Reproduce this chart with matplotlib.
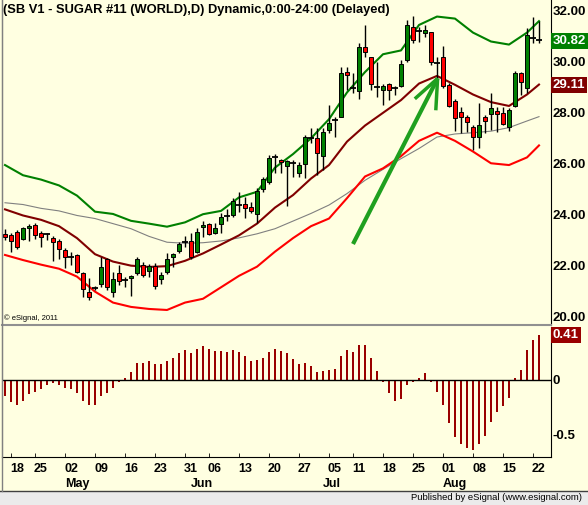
import matplotlib
matplotlib.use('Agg')
import matplotlib.pyplot as plt
import matplotlib.transforms as mtransforms
from matplotlib.patches import Rectangle
import pandas as pd

plt.rcParams['font.family'] = ['Liberation Sans', 'DejaVu Sans']

# ICE sugar trading days, Apr 14 - Aug 22 2011 (Good Friday, Memorial Day, Jul 4 closed)
dates = pd.bdate_range('2011-04-14', '2011-08-22')
dates = dates.drop(pd.to_datetime(['2011-04-22', '2011-05-30', '2011-07-04']))

opens = [23.24, 23.20, 23.31, 23.06, 23.47, 23.60, 23.27, 23.25, 23.08, 22.97,
         22.62, 22.35, 22.42, 21.73, 20.96, 21.12, 21.27, 22.26, 20.98, 21.70,
         21.42, 21.50, 21.70, 22.03, 21.80, 21.99, 21.47, 21.76, 22.33, 22.59,
         22.92, 22.97, 22.53, 23.51, 23.63, 23.27, 23.62, 23.95, 23.98, 24.40,
         24.41, 24.32, 24.02, 25.00, 25.30, 26.27, 26.15, 25.93, 26.05, 25.63,
         25.99, 27.00, 27.00, 26.31, 27.33, 27.70, 27.85, 29.59, 28.98, 28.87,
         30.57, 30.18, 29.00, 28.90, 29.13, 28.98, 29.06, 30.08, 31.38, 31.20,
         31.12, 31.16, 29.96, 30.21, 29.09, 28.48, 28.05, 27.83, 27.46, 27.04,
         27.85, 27.96, 28.07, 27.98, 27.46, 28.27, 29.55, 28.97, 30.95, 30.85]
highs = [23.45, 23.30, 23.40, 23.53, 23.64, 23.69, 23.36, 23.30, 23.17, 23.05,
         22.70, 22.55, 22.45, 21.76, 21.52, 21.20, 22.35, 22.29, 21.76, 22.03,
         21.54, 21.64, 22.35, 22.16, 22.07, 22.11, 21.76, 22.49, 22.51, 22.94,
         23.17, 23.27, 23.49, 23.76, 23.67, 23.67, 24.06, 24.21, 24.65, 24.91,
         24.71, 24.51, 25.04, 25.49, 26.35, 26.39, 26.18, 26.15, 26.15, 26.08,
         27.13, 27.39, 27.39, 27.39, 28.31, 27.85, 29.79, 29.81, 29.55, 30.73,
         31.45, 30.21, 30.01, 29.13, 29.16, 29.06, 30.08, 31.65, 31.80, 31.38,
         31.45, 31.19, 30.21, 30.63, 29.16, 28.53, 28.24, 27.92, 27.52, 28.38,
         27.92, 28.77, 28.24, 28.24, 28.18, 29.66, 29.62, 31.32, 31.78, 31.62]
lows = [23.01, 22.55, 22.64, 22.99, 22.98, 23.04, 22.75, 23.01, 22.20, 22.25,
        21.90, 22.03, 21.70, 20.78, 20.65, 21.05, 21.18, 21.05, 20.76, 21.24,
        21.18, 20.81, 21.63, 21.54, 21.57, 21.07, 21.28, 21.67, 21.96, 22.49,
        22.72, 22.25, 22.49, 23.14, 23.20, 23.23, 23.27, 23.76, 23.92, 24.12,
        23.88, 24.06, 23.67, 24.91, 25.20, 25.63, 25.65, 24.33, 25.49, 25.49,
        25.44, 26.81, 25.56, 25.76, 27.22, 27.07, 27.83, 28.90, 28.77, 28.53,
        30.21, 28.90, 28.61, 28.31, 28.51, 28.70, 29.00, 30.01, 30.73, 30.79,
        30.99, 29.88, 29.16, 28.97, 28.24, 27.30, 27.20, 27.26, 26.54, 26.61,
        27.22, 27.33, 27.26, 27.52, 27.29, 28.24, 28.70, 28.77, 30.73, 30.73]
closes = [23.12, 22.98, 22.72, 23.47, 23.57, 23.20, 23.11, 23.22, 22.92, 22.64,
          22.33, 22.37, 21.74, 21.10, 20.78, 21.15, 21.94, 21.18, 21.47, 21.41,
          21.40, 21.60, 22.25, 21.63, 22.00, 21.21, 21.63, 22.25, 22.45, 22.85,
          22.95, 22.35, 23.33, 23.59, 23.26, 23.47, 23.90, 23.98, 24.54, 24.42,
          24.25, 24.16, 24.93, 25.39, 26.22, 26.30, 26.05, 26.11, 26.07, 25.95,
          27.05, 27.02, 26.41, 27.26, 27.61, 27.72, 29.58, 29.49, 29.00, 30.57,
          30.38, 29.13, 29.02, 29.06, 28.90, 28.96, 29.91, 31.45, 30.86, 31.17,
          31.25, 30.01, 29.95, 29.06, 28.27, 27.79, 27.85, 27.65, 27.04, 27.52,
          27.69, 28.18, 27.96, 27.56, 28.11, 29.58, 29.22, 31.06, 30.93, 30.82]

# envelope lines read every third bar
band_idx = [0, 3, 6, 9, 12, 15, 18, 21, 24, 27, 30, 33, 36, 39, 42, 45,
            48, 51, 54, 57, 60, 63, 66, 69, 72, 75, 78, 81, 84, 87, 89]
upper = [25.95, 25.55, 25.38, 25.15, 24.75, 24.12, 24.03, 23.76, 23.65, 23.53,
         23.70, 24.02, 24.15, 24.68, 24.90, 25.85, 26.38, 27.00, 27.75, 28.80,
         29.60, 30.30, 30.45, 31.45, 31.78, 31.70, 31.15, 30.80, 30.68, 31.15, 31.60]
middle = [24.21, 23.97, 23.80, 23.55, 23.08, 22.45, 22.16, 22.00, 21.95, 21.98,
          22.19, 22.48, 22.83, 23.19, 23.65, 24.28, 24.77, 25.42, 25.95, 26.87,
          27.50, 28.00, 28.50, 29.15, 29.45, 29.10, 28.72, 28.42, 28.27, 28.72, 29.11]
lower = [22.42, 22.22, 22.04, 21.88, 21.57, 20.98, 20.55, 20.38, 20.30, 20.26,
         20.55, 20.70, 21.15, 21.60, 21.96, 22.55, 23.08, 23.55, 23.85, 24.65,
         25.50, 25.82, 26.30, 26.90, 27.22, 26.90, 26.48, 26.02, 25.95, 26.25, 26.72]
slow_ma = [24.47, 24.40, 24.25, 24.15, 23.97, 23.85, 23.65, 23.45, 23.15, 22.92,
           22.88, 22.90, 22.97, 23.09, 23.25, 23.45, 23.75, 24.05, 24.38, 24.83,
           25.35, 25.78, 26.20, 26.60, 27.05, 27.17, 27.22, 27.28, 27.42, 27.68, 27.85]

osc = [-0.15, -0.20, -0.23, -0.19, -0.13, -0.11, -0.08, -0.05, -0.03, -0.05,
       -0.07, -0.08, -0.12, -0.19, -0.23, -0.23, -0.15, -0.12, -0.07, -0.02,
       0.02, 0.07, 0.15, 0.15, 0.17, 0.14, 0.14, 0.17, 0.20, 0.24,
       0.27, 0.24, 0.28, 0.31, 0.28, 0.26, 0.26, 0.25, 0.27, 0.25,
       0.22, 0.17, 0.18, 0.20, 0.25, 0.28, 0.26, 0.24, 0.19, 0.14,
       0.15, 0.13, 0.07, 0.08, 0.09, 0.10, 0.22, 0.27, 0.25, 0.32,
       0.32, 0.20, 0.08, -0.02, -0.12, -0.19, -0.17, -0.05, -0.02, 0.02,
       0.06, -0.02, -0.11, -0.23, -0.39, -0.52, -0.58, -0.62, -0.64, -0.58,
       -0.51, -0.38, -0.29, -0.24, -0.16, 0.02, 0.09, 0.27, 0.36, 0.41]

price_ticks = [20, 22, 24, 26, 28, 30, 32]
title = '(SB V1 - SUGAR #11 (WORLD),D) Dynamic,0:00-24:00 (Delayed)'

# hand-drawn arrow on the chart (bar index, price)
arrow_tail = (58.0, 22.85)
arrow_tip = (72.1, 29.35)
arrow_barbs = [(68.3, 28.55), (71.8, 28.10)]

BG = '#FFFFE1'
GREEN = '#008000'
RED = '#FF0000'
DARKRED = '#800000'

W, H = 588.0, 505.0
fig = plt.figure(figsize=(W / 100, H / 100), dpi=100, facecolor=BG)
ax1 = fig.add_axes([2 / W, 1 - 325 / H, 549 / W, 325 / H])
ax2 = fig.add_axes([2 / W, 1 - 457 / H, 549 / W, 130 / H])

for ax in (ax1, ax2):
    ax.set_facecolor(BG)
    ax.set_xlim(-0.5, 91)
    ax.yaxis.tick_right()
    ax.spines['right'].set_color('black')
    ax.spines['left'].set_color('#808080')
    ax.tick_params(axis='y', length=0, pad=1, labelsize=9.5)

# ---- price panel
ax1.set_ylim(19.67, 32.43)
ax1.spines['top'].set_visible(False)
ax1.spines['bottom'].set_color('#909090')
ax1.spines['bottom'].set_linewidth(1.5)
ax1.set_xticks([])
ax1.set_yticks(price_ticks)
ax1.set_yticklabels(['%.2f' % t for t in price_ticks], fontweight='bold')

ax1.plot(band_idx, slow_ma, color='#808080', lw=0.8, zorder=2)
ax1.plot(band_idx, upper, color=GREEN, lw=1.5, zorder=2)
ax1.plot(band_idx, middle, color=DARKRED, lw=1.5, zorder=2)
ax1.plot(band_idx, lower, color=RED, lw=1.5, zorder=2)

for i, (o, h, l, c) in enumerate(zip(opens, highs, lows, closes)):
    ax1.vlines(i, l, h, color='black', lw=1, zorder=3)
    if abs(c - o) < 0.05:
        ax1.hlines(o, i - 0.45, i + 0.45, color='black', lw=1.3, zorder=4)
    else:
        col = GREEN if c > o else RED
        ax1.add_patch(Rectangle((i - 0.38, min(o, c)), 0.76, abs(c - o),
                                facecolor=col, edgecolor='black', lw=0.7, zorder=4))

ax1.plot([arrow_tail[0], arrow_tip[0]], [arrow_tail[1], arrow_tip[1]],
         color='#1FA01F', lw=3, solid_capstyle='butt', zorder=5)
for bx, by in arrow_barbs:
    ax1.plot([arrow_tip[0], bx], [arrow_tip[1], by], color='#1FA01F', lw=2.5,
             solid_capstyle='butt', zorder=5)

ax1.text(0.002, 1 - 10 / 325, title, transform=ax1.transAxes, fontsize=9.3,
         fontweight='bold', va='center', ha='left')
ax1.text(0.004, 0.022, '\u00a9 eSignal, 2011', transform=ax1.transAxes,
         fontsize=5.5, va='center', ha='left')

t1 = mtransforms.blended_transform_factory(ax1.transAxes, ax1.transData)
ax1.text(1.003, closes[-1], '%.2f' % closes[-1], transform=t1, color='white',
         fontsize=9.5, fontweight='bold', va='center', ha='left', clip_on=False,
         bbox=dict(boxstyle='square,pad=0.15', fc=GREEN, ec='none'))
ax1.text(1.003, middle[-1], '%.2f' % middle[-1], transform=t1, color='white',
         fontsize=9.5, fontweight='bold', va='center', ha='left', clip_on=False,
         bbox=dict(boxstyle='square,pad=0.15', fc=DARKRED, ec='none'))

# ---- oscillator panel
ax2.set_ylim(-0.70, 0.48)
ax2.spines['top'].set_visible(False)
ax2.bar(range(len(osc)), osc, width=0.4, color='#990000', zorder=2)
ax2.axhline(0, color='black', lw=1, zorder=3)
ax2.set_yticks([-0.5, 0])
ax2.set_yticklabels(['-0.5', '0'], fontweight='bold')
t2 = mtransforms.blended_transform_factory(ax2.transAxes, ax2.transData)
ax2.text(1.003, osc[-1], '%.2f' % osc[-1], transform=t2, color='white',
         fontsize=9.5, fontweight='bold', va='center', ha='left', clip_on=False,
         bbox=dict(boxstyle='square,pad=0.15', fc='#990000', ec='none'))

week = dates.isocalendar().week.values
week_idx = [i for i in range(1, len(dates)) if week[i] != week[i - 1]]
month_idx = [i for i in range(1, len(dates)) if dates[i].month != dates[i - 1].month]

ax2.set_xticks(week_idx)
ax2.set_xticklabels([dates[i].strftime('%d') for i in week_idx], fontweight='bold')
ax2.tick_params(axis='x', length=0, pad=4, labelsize=9)
ax2.set_xticks([i - 1 for i in week_idx], minor=True)
ax2.tick_params(axis='x', which='minor', direction='in', length=3, color='black')
t3 = mtransforms.blended_transform_factory(ax2.transData, ax2.transAxes)
for i in month_idx:
    ax2.text(i - 1, -0.205, dates[i].strftime('%b'), transform=t3, fontsize=9,
             fontweight='bold', ha='left', va='center')

# bottom status strip
fig.patches.append(Rectangle((0, 0), 1, 14 / H, transform=fig.transFigure,
                             facecolor='#EBEBEB', edgecolor='none'))
fig.lines.append(plt.Line2D([0, 1], [14 / H, 14 / H], transform=fig.transFigure,
                            color='#404040', lw=1))
fig.lines.append(plt.Line2D([2 / W, 2 / W], [14 / H, 1], transform=fig.transFigure,
                            color='#808080', lw=1))
fig.text(582 / W, 7 / H, 'Published by eSignal (www.esignal.com)', ha='right',
         va='center', fontsize=6.8)

fig.savefig('out.png', dpi=100, facecolor=BG)
